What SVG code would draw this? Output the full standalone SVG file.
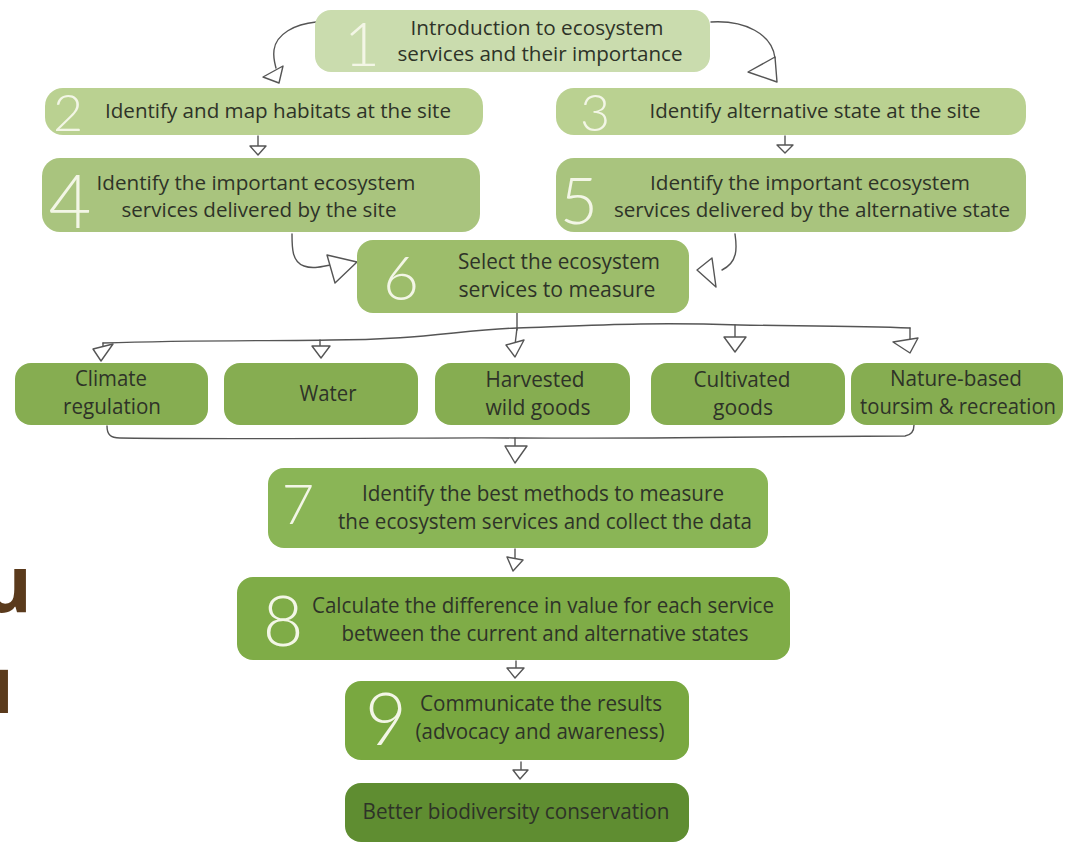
<svg xmlns="http://www.w3.org/2000/svg" width="1067" height="842" viewBox="0 0 1067 842">
<defs>
<style>
.t{font-family:"Open Sans","Noto Sans","Liberation Sans",sans-serif;fill:#2e3328;text-anchor:middle}
.t1{font-size:20px}
.t2{font-size:21px}
.num{font-family:"Lato","Open Sans","DejaVu Sans",sans-serif;font-weight:300;fill:#f3f6e6;text-anchor:middle}
.c{fill:none;stroke:#555;stroke-width:1.4;stroke-linecap:round;stroke-linejoin:round}
.a{fill:#fff;stroke:#555;stroke-width:1.4;stroke-linejoin:round}
.side{font-family:"Open Sans","Noto Sans",sans-serif;font-weight:700;fill:#5a3a1c}
</style>
</defs>
<rect width="1067" height="842" fill="#ffffff"/>
<text class="side" x="32" y="612" font-size="78" text-anchor="end">u</text>
<text class="side" x="14" y="713" font-size="78" text-anchor="end">ı</text>

<g id="connectors">
<path class="c" d="M316,22 C295,24 276,34 274,50 C273,58 275,64 276,68"/>
<polygon class="a" points="263,77 283,66 279,83"/>
<path class="c" d="M711,22 C745,20 772,34 775,58"/>
<polygon class="a" points="748,72 775,57 777,82"/>
<path class="c" d="M258,136 L258,146"/>
<polygon class="a" points="250,146 266,146 258,155"/>
<path class="c" d="M785,136 L785,145"/>
<polygon class="a" points="777,145 793,145 785,153"/>
<path class="c" d="M292,234 C292,248 292,262 304,266 C312,269 320,267 330,265"/>
<polygon class="a" points="357,262 327,255 335,283"/>
<path class="c" d="M735,234 C737,248 738,262 722,270"/>
<polygon class="a" points="697,270 712,258 716,287"/>
<path class="c" d="M517,313 L517,330"/>
<path class="c" d="M103,343 C200,340 280,341 330,340 C420,340 460,330 517,328 C600,325 650,322 740,325 C800,326 860,326 910,328"/>
<path class="c" d="M103,343 L103,349"/>
<polygon class="a" points="93,349 113,344 101,361"/>
<path class="c" d="M320,340 L320,346"/>
<polygon class="a" points="312,346 330,346 321,358"/>
<path class="c" d="M517,328 L515,345"/>
<polygon class="a" points="506,345 524,340 515,357"/>
<path class="c" d="M735,325 L735,337"/>
<polygon class="a" points="724,337 746,337 735,352"/>
<path class="c" d="M910,328 L910,339"/>
<polygon class="a" points="893,342 918,338 910,353"/>
<path class="c" d="M107,426 C107,434 110,438 120,438 C300,440 450,437 515,438 C650,439 800,436 905,436 C912,435 914,430 914,425"/>
<path class="c" d="M515,438 L515,446"/>
<polygon class="a" points="505,446 527,446 515,463"/>
<path class="c" d="M515,549 L515,558"/>
<polygon class="a" points="507,557 523,560 513,571"/>
<path class="c" d="M516,661 L516,668"/>
<polygon class="a" points="507,668 524,668 515,678"/>
<path class="c" d="M521,762 L521,770"/>
<polygon class="a" points="513,770 528,770 520,779"/>
</g>

<g id="node1">
<rect x="315" y="10" width="395" height="62" rx="16" fill="#cadcae"/>
<text class="num" x="362" y="66" font-size="62">1</text>
<text class="t t1" x="537" y="35" textLength="253" lengthAdjust="spacingAndGlyphs">Introduction to ecosystem</text>
<text class="t t1" x="540" y="61" textLength="285" lengthAdjust="spacingAndGlyphs">services and their importance</text>
</g>
<g id="node2">
<rect x="45" y="88" width="438" height="47" rx="18" fill="#bad191"/>
<text class="num" x="68" y="131" font-size="52">2</text>
<text class="t t1" x="278" y="118" textLength="346" lengthAdjust="spacingAndGlyphs">Identify and map habitats at the site</text>
</g>
<g id="node3">
<rect x="556" y="88" width="470" height="47" rx="18" fill="#bad191"/>
<text class="num" x="595" y="131" font-size="52">3</text>
<text class="t t1" x="815" y="118" textLength="331" lengthAdjust="spacingAndGlyphs">Identify alternative state at the site</text>
</g>
<g id="node4">
<rect x="42" y="158" width="438" height="74" rx="18" fill="#a9c47e"/>
<text class="num" x="70" y="228" font-size="74">4</text>
<text class="t t1" x="256" y="190" textLength="319" lengthAdjust="spacingAndGlyphs">Identify the important ecosystem</text>
<text class="t t1" x="259" y="217" textLength="275" lengthAdjust="spacingAndGlyphs">services delivered by the site</text>
</g>
<g id="node5">
<rect x="556" y="158" width="470" height="74" rx="18" fill="#a9c47e"/>
<text class="num" x="579" y="224" font-size="66">5</text>
<text class="t t1" x="810" y="190" textLength="320" lengthAdjust="spacingAndGlyphs">Identify the important ecosystem</text>
<text class="t t1" x="812" y="217" textLength="396" lengthAdjust="spacingAndGlyphs">services delivered by the alternative state</text>
</g>
<g id="node6">
<rect x="357" y="240" width="332" height="73" rx="16" fill="#9dbd6b"/>
<text class="num" x="401" y="300" font-size="62">6</text>
<text class="t t2" x="559" y="269" textLength="202" lengthAdjust="spacingAndGlyphs">Select the ecosystem</text>
<text class="t t2" x="557" y="297" textLength="197" lengthAdjust="spacingAndGlyphs">services to measure</text>
</g>
<g id="svc-climate">
<rect x="15" y="363" width="193" height="62" rx="16" fill="#86ad51"/>
<text class="t t2" x="111" y="386" textLength="72" lengthAdjust="spacingAndGlyphs">Climate</text>
<text class="t t2" x="112" y="414" textLength="98" lengthAdjust="spacingAndGlyphs">regulation</text>
</g>
<g id="svc-water">
<rect x="224" y="363" width="194" height="62" rx="16" fill="#86ad51"/>
<text class="t t2" x="328" y="401" textLength="57" lengthAdjust="spacingAndGlyphs">Water</text>
</g>
<g id="svc-harvested">
<rect x="435" y="363" width="195" height="62" rx="16" fill="#86ad51"/>
<text class="t t2" x="535" y="387" textLength="99" lengthAdjust="spacingAndGlyphs">Harvested</text>
<text class="t t2" x="538" y="415" textLength="105" lengthAdjust="spacingAndGlyphs">wild goods</text>
</g>
<g id="svc-cultivated">
<rect x="651" y="363" width="194" height="62" rx="16" fill="#86ad51"/>
<text class="t t2" x="742" y="387" textLength="97" lengthAdjust="spacingAndGlyphs">Cultivated</text>
<text class="t t2" x="743" y="415" textLength="60" lengthAdjust="spacingAndGlyphs">goods</text>
</g>
<g id="svc-nature">
<rect x="851" y="363" width="212" height="62" rx="16" fill="#86ad51"/>
<text class="t t2" x="956" y="386" textLength="132" lengthAdjust="spacingAndGlyphs">Nature-based</text>
<text class="t t2" x="958" y="414" textLength="196" lengthAdjust="spacingAndGlyphs">toursim &amp; recreation</text>
</g>
<g id="node7">
<rect x="268" y="468" width="500" height="80" rx="16" fill="#8ab556"/>
<text class="num" x="298" y="524" font-size="56">7</text>
<text class="t t2" x="543" y="501" textLength="362" lengthAdjust="spacingAndGlyphs">Identify the best methods to measure</text>
<text class="t t2" x="545" y="529" textLength="414" lengthAdjust="spacingAndGlyphs">the ecosystem services and collect the data</text>
</g>
<g id="node8">
<rect x="237" y="577" width="553" height="83" rx="16" fill="#7fac47"/>
<text class="num" x="283" y="646" font-size="70">8</text>
<text class="t t2" x="543" y="613" textLength="462" lengthAdjust="spacingAndGlyphs">Calculate the difference in value for each service</text>
<text class="t t2" x="545" y="641" textLength="407" lengthAdjust="spacingAndGlyphs">between the current and alternative states</text>
</g>
<g id="node9">
<rect x="345" y="681" width="344" height="79" rx="16" fill="#79a840"/>
<text class="num" x="386" y="745" font-size="72">9</text>
<text class="t t2" x="541" y="711" textLength="242" lengthAdjust="spacingAndGlyphs">Communicate the results</text>
<text class="t t2" x="540" y="739" textLength="249" lengthAdjust="spacingAndGlyphs">(advocacy and awareness)</text>
</g>
<g id="node10">
<rect x="345" y="783" width="344" height="59" rx="16" fill="#5f8d31"/>
<text class="t t2" x="516" y="819" textLength="307" lengthAdjust="spacingAndGlyphs">Better biodiversity conservation</text>
</g>
</svg>
